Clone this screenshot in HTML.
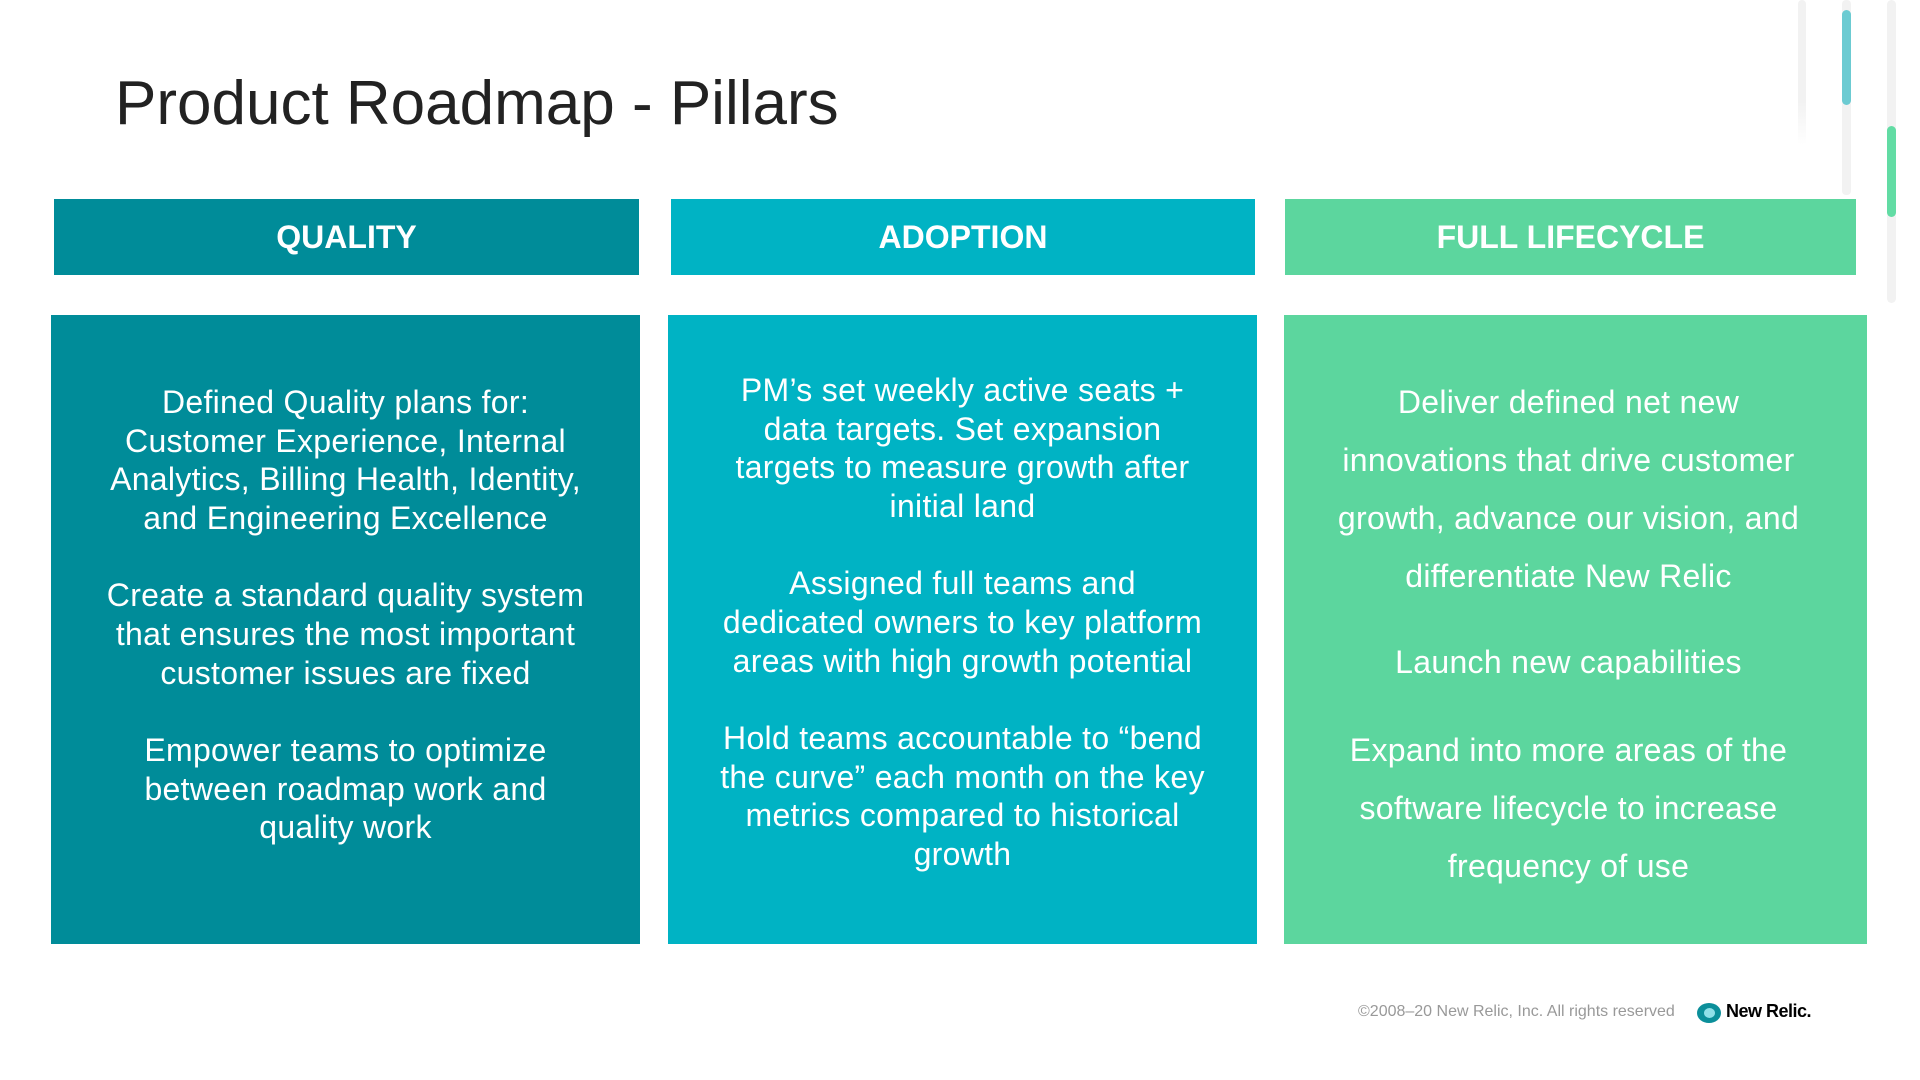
<!DOCTYPE html>
<html><head><meta charset="utf-8"><style>
*{margin:0;padding:0;box-sizing:border-box}
body{width:1920px;height:1080px;background:#fff;position:relative;overflow:hidden;font-family:"Liberation Sans",sans-serif}
.a{position:absolute}
h1{position:absolute;left:115px;top:68px;font-weight:normal;font-size:62px;color:#222;letter-spacing:0px}
.hd{position:absolute;top:199px;height:76px;color:#fff;font-weight:bold;font-size:32px;display:flex;align-items:center;justify-content:center}
.bx{position:absolute;top:315px;height:629px;color:#fff;font-size:32px;letter-spacing:0.3px;text-align:center;line-height:38.6px}
.bx p{margin-bottom:39px}
.q{background:#008c99}.ad{background:#00b3c4}.g{background:#5cd69e}
</style></head><body>
<h1>Product Roadmap - Pillars</h1>
<div class="hd q" style="left:54px;width:585px">QUALITY</div>
<div class="hd ad" style="left:671px;width:584px">ADOPTION</div>
<div class="hd g" style="left:1285px;width:571px">FULL LIFECYCLE</div>

<div class="bx q" style="left:51px;width:589px;padding-top:68px">
<p>Defined Quality plans for:<br>Customer Experience, Internal<br>Analytics, Billing Health, Identity,<br>and Engineering Excellence</p>
<p>Create a standard quality system<br>that ensures the most important<br>customer issues are fixed</p>
<p>Empower teams to optimize<br>between roadmap work and<br>quality work</p>
</div>
<div class="bx ad" style="left:668px;width:589px;padding-top:56px">
<p>PM’s set weekly active seats +<br>data targets. Set expansion<br>targets to measure growth after<br>initial land</p>
<p>Assigned full teams and<br>dedicated owners to key platform<br>areas with high growth potential</p>
<p>Hold teams accountable to “bend<br>the curve” each month on the key<br>metrics compared to historical<br>growth</p>
</div>
<div class="bx g" style="left:1284px;width:583px;padding-top:58px;padding-right:14px;line-height:58px">
<p style="margin-bottom:28px">Deliver defined net new<br>innovations that drive customer<br>growth, advance our vision, and<br>differentiate New Relic</p>
<p style="margin-bottom:30px">Launch new capabilities</p>
<p>Expand into more areas of the<br>software lifecycle to increase<br>frequency of use</p>
</div>

<div class="a" style="left:1358px;top:1003px;font-size:16px;color:#999">©2008–20 New Relic, Inc. All rights reserved</div>
<div class="a" style="left:1697px;top:1003px;width:24px;height:20px;border-radius:50%;background:#0b8f9a"></div>
<div class="a" style="left:1704px;top:1008px;width:11px;height:10px;border-radius:50%;background:#8fe0e8"></div>
<div class="a" style="left:1726px;top:1001px;font-size:18px;font-weight:bold;color:#000;letter-spacing:-0.5px">New Relic.</div>

<div class="a" style="left:1798px;top:0;width:8px;height:145px;border-radius:4px;background:linear-gradient(#f2f2f2 70%,#fff)"></div>
<div class="a" style="left:1842px;top:0;width:9px;height:195px;border-radius:4px;background:#f2f2f2"></div>
<div class="a" style="left:1842px;top:10px;width:9px;height:95px;border-radius:5px;background:#6ccbd2"></div>
<div class="a" style="left:1887px;top:0;width:9px;height:303px;border-radius:5px;background:#f2f2f2"></div>
<div class="a" style="left:1887px;top:126px;width:9px;height:91px;border-radius:5px;background:#62dca4"></div>
</body></html>
